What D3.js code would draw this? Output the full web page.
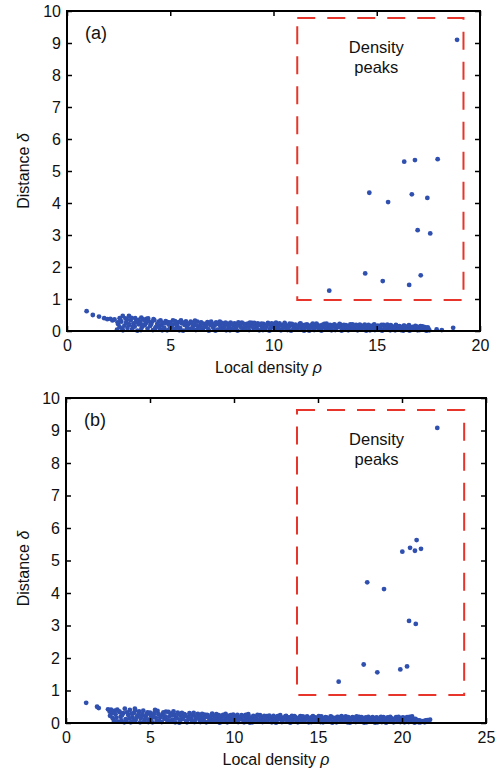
<!DOCTYPE html>
<html>
<head>
<meta charset="utf-8">
<script src="https://cdn.jsdelivr.net/npm/d3@7"></script>
<style>
  body { margin: 0; background: #fff; }
  svg { display: block; }
  text { font-family: "Liberation Sans", Arial, Helvetica, sans-serif; fill: #111; }
</style>
</head>
<body>
<svg id="chart" width="499" height="771"></svg>
<script>
// Decision graphs: local density rho vs. distance delta.

// (a) low-delta points (cluster members / halo)
const bandA = [
  [0.95,0.62],[1.25,0.50],[1.55,0.45],[1.8,0.40],[1.95,0.37],[2.1,0.38],[2.2,0.33],[2.3,0.36],
  [2.55,0.40],[2.7,0.47],[3.0,0.47],[2.9,0.36],[3.3,0.40],[3.6,0.42],[3.85,0.38],
  [2.42,0.04],[2.48,0.21],[2.55,0.12],[2.63,0.29],[2.71,0.02],[2.78,0.17],[2.86,0.26],[2.93,0.09],
  [3.02,0.19],[3.08,0.33],[3.15,0.05],[3.22,0.24],[3.28,0.14],[3.35,0.31],[3.41,0.01],[3.48,0.21],
  [3.55,0.28],[3.62,0.11],[3.69,0.36],[3.76,0.18],[3.83,0.25],[3.9,0.07],[3.96,0.30],
  [4.03,0.16],[4.1,0.27],[4.16,0.03],[4.23,0.34],[4.3,0.12],[4.37,0.22],[4.44,0.29],[4.5,0.06],
  [4.57,0.18],[4.64,0.25],[4.71,0.10],[4.78,0.31],[4.85,0.02],[4.92,0.20],
  [5.0,0.27],[5.07,0.13],[5.13,0.33],[5.2,0.05],[5.27,0.22],[5.34,0.17],[5.41,0.28],[5.48,0.09],
  [5.55,0.24],[5.62,0.01],[5.69,0.19],[5.76,0.30],[5.83,0.12],[5.9,0.23],[5.96,0.06],
  [6.03,0.26],[6.1,0.15],[6.17,0.21],[6.24,0.03],[6.31,0.29],[6.38,0.11],[6.45,0.18],[6.52,0.25],
  [6.59,0.07],[6.66,0.22],[6.73,0.14],[6.8,0.28],[6.87,0.01],[6.94,0.19],
  [7.01,0.24],[7.08,0.10],[7.15,0.17],[7.22,0.27],[7.29,0.04],[7.36,0.21],[7.43,0.13],[7.5,0.25],
  [7.57,0.08],[7.64,0.19],[7.71,0.02],[7.78,0.23],[7.85,0.15],[7.92,0.26],[7.98,0.06],
  [8.05,0.18],[8.12,0.24],[8.19,0.11],[8.26,0.01],[8.33,0.21],[8.4,0.15],[8.47,0.26],[8.54,0.07],
  [8.61,0.19],[8.68,0.13],[8.75,0.23],[8.82,0.03],[8.89,0.17],[8.96,0.25],
  [9.03,0.09],[9.1,0.20],[9.17,0.14],[9.24,0.24],[9.31,0.02],[9.38,0.18],[9.45,0.11],[9.52,0.22],
  [9.59,0.06],[9.66,0.16],[9.73,0.25],[9.8,0.01],[9.87,0.19],[9.94,0.12],
  [10.01,0.22],[10.08,0.05],[10.15,0.17],[10.22,0.10],[10.29,0.24],[10.36,0.02],[10.43,0.19],[10.5,0.13],
  [10.57,0.21],[10.64,0.07],[10.71,0.16],[10.78,0.23],[10.85,0.01],[10.92,0.18],[10.99,0.11],
  [11.06,0.20],[11.13,0.04],[11.2,0.15],[11.27,0.22],[11.34,0.09],[11.41,0.18],[11.48,0.01],[11.55,0.13],
  [11.62,0.21],[11.69,0.06],[11.76,0.17],[11.83,0.11],[11.9,0.23],[11.97,0.03],
  [12.04,0.15],[12.11,0.20],[12.18,0.08],[12.25,0.17],[12.32,0.01],[12.39,0.12],[12.46,0.22],[12.53,0.05],
  [12.6,0.16],[12.67,0.10],[12.74,0.19],[12.81,0.02],[12.88,0.14],[12.95,0.21],
  [13.02,0.07],[13.09,0.17],[13.16,0.12],[13.23,0.20],[13.3,0.01],[13.37,0.15],[13.44,0.09],[13.51,0.18],
  [13.58,0.04],[13.65,0.13],[13.72,0.21],[13.79,0.06],[13.86,0.16],[13.93,0.10],
  [14.0,0.19],[14.07,0.02],[14.14,0.14],[14.21,0.08],[14.28,0.17],[14.35,0.11],[14.42,0.20],[14.49,0.01],
  [14.56,0.13],[14.63,0.07],[14.7,0.16],[14.77,0.10],[14.84,0.18],[14.91,0.03],[14.98,0.12],
  [15.05,0.17],[15.12,0.06],[15.19,0.14],[15.26,0.01],[15.33,0.19],[15.4,0.09],[15.47,0.15],[15.54,0.04],
  [15.61,0.12],[15.68,0.18],[15.75,0.07],[15.82,0.13],[15.89,0.02],[15.96,0.16],
  [16.03,0.10],[16.1,0.15],[16.17,0.03],[16.24,0.12],[16.31,0.17],[16.38,0.06],[16.45,0.11],[16.52,0.14],
  [16.59,0.01],[16.66,0.09],[16.73,0.13],[16.8,0.05],[16.87,0.16],[16.94,0.08],
  [17.01,0.12],[17.08,0.03],[17.15,0.09],[17.22,0.14],[17.29,0.05],[17.36,0.10],[17.43,0.02],[17.5,0.07],
  [17.55,0.02],[17.9,0.05],[18.15,0.03],[18.7,0.10],
  [2.45,0.27],[2.58,0.35],[2.67,0.08],[2.83,0.39],[2.97,0.22],[3.12,0.41],[3.19,0.13],[3.33,0.27],
  [3.46,0.35],[3.58,0.03],[3.66,0.19],[3.79,0.31],[3.93,0.39],[4.07,0.21],[4.19,0.37],[4.27,0.08],
  [4.41,0.17],[4.53,0.33],[4.61,0.02],[4.74,0.24],[4.88,0.28],[4.97,0.07],[5.1,0.19],[5.23,0.31],
  [5.3,0.10],[5.44,0.02],[5.52,0.33],[5.66,0.26],[5.79,0.04],[5.87,0.21],[5.99,0.29],[6.07,0.08],
  [6.2,0.32],[6.28,0.17],[6.42,0.04],[6.49,0.27],[6.63,0.12],[6.77,0.22],[6.84,0.06],[6.98,0.29],
  [7.05,0.16],[7.19,0.01],[7.26,0.22],[7.4,0.29],[7.47,0.07],[7.61,0.14],[7.68,0.26],[7.82,0.11],
  [7.89,0.02],[8.02,0.22],[8.09,0.05],[8.23,0.17],[8.3,0.27],[8.44,0.10],[8.58,0.22],[8.65,0.04],
  [8.79,0.15],[8.86,0.26],[8.99,0.14],[9.07,0.25],[9.21,0.06],[9.28,0.19],[9.42,0.23],[9.49,0.03],
  [9.63,0.12],[9.7,0.20],[9.84,0.08],[9.91,0.24],[10.05,0.14],[10.12,0.26],[10.26,0.06],[10.33,0.18],
  [10.47,0.09],[10.54,0.25],[10.68,0.03],[10.75,0.13],[10.89,0.22],[10.96,0.05],[11.1,0.17],[11.24,0.11],
  [11.31,0.24],[11.45,0.07],[11.52,0.19],[11.66,0.14],[11.73,0.01],[11.87,0.20],[11.94,0.08],[12.08,0.23],
  [12.15,0.11],[12.29,0.04],[12.36,0.19],[12.5,0.14],[12.57,0.23],[12.71,0.06],[12.78,0.12],[12.92,0.18],
  [12.99,0.03],[13.13,0.15],[13.2,0.22],[13.34,0.09],[13.41,0.19],[13.55,0.12],[13.62,0.02],[13.76,0.17],
  [13.83,0.21],[13.97,0.05],[14.04,0.13],[14.18,0.20],[14.25,0.04],[14.39,0.15],[14.46,0.09],[14.6,0.19],
  [14.67,0.02],[14.81,0.12],[14.88,0.21],[15.02,0.08],[15.09,0.14],[15.23,0.19],[15.3,0.04],[15.44,0.12],
  [15.51,0.20],[15.65,0.02],[15.72,0.15],[15.86,0.09],[15.93,0.19],[16.07,0.06],[16.14,0.13],[16.28,0.01],
  [16.35,0.16],[16.49,0.08],[16.56,0.18],[16.7,0.04],[16.77,0.11],[16.91,0.14],[16.98,0.02],[17.12,0.15],
  [17.19,0.06],[17.33,0.12],[17.4,0.01],[17.47,0.11]
];

// (a) cluster centres: high rho and high delta
const peaksA = [
  [18.89,9.10],[16.33,5.29],[16.85,5.34],[17.95,5.37],[14.64,4.32],[15.55,4.03],[16.70,4.27],
  [17.45,4.16],[16.98,3.15],[17.59,3.05],[14.44,1.80],[15.29,1.56],[16.57,1.44],[17.13,1.74],
  [12.70,1.26]
];

// (b) low-delta points
const bandB = [
  [1.2,0.62],[1.85,0.50],[1.95,0.46],[2.5,0.42],[2.6,0.35],[2.75,0.30],[2.9,0.38],[3.05,0.41],
  [3.2,0.33],[3.5,0.44],[3.8,0.40],[4.1,0.44],[3.3,0.08],[3.6,0.05],
  [2.62,0.22],[2.78,0.15],[2.95,0.27],[3.1,0.04],[3.25,0.19],[3.4,0.30],[3.55,0.12],[3.7,0.25],[3.85,0.02],[3.95,0.18],
  [4.05,0.31],[4.15,0.09],[4.25,0.22],[4.35,0.36],[4.45,0.14],[4.55,0.27],[4.65,0.05],[4.75,0.19],[4.85,0.33],[4.95,0.11],
  [5.05,0.24],[5.15,0.02],[5.25,0.30],[5.35,0.16],[5.45,0.37],[5.55,0.08],[5.65,0.22],[5.75,0.28],[5.85,0.13],[5.95,0.35],
  [6.05,0.04],[6.15,0.20],[6.25,0.29],[6.35,0.10],[6.45,0.25],[6.55,0.17],[6.65,0.32],[6.75,0.01],[6.85,0.21],[6.95,0.12],
  [7.05,0.27],[7.15,0.06],[7.25,0.19],[7.35,0.30],[7.45,0.14],[7.55,0.23],[7.65,0.03],[7.75,0.18],[7.85,0.28],[7.95,0.09],
  [8.05,0.21],[8.15,0.15],[8.25,0.26],[8.35,0.02],[8.45,0.19],[8.55,0.11],[8.65,0.24],[8.75,0.07],[8.85,0.17],[8.95,0.27],
  [9.05,0.12],[9.15,0.01],[9.25,0.20],[9.35,0.25],[9.45,0.09],[9.55,0.16],[9.65,0.22],[9.75,0.04],[9.85,0.18],[9.95,0.26],
  [10.05,0.13],[10.15,0.21],[10.25,0.03],[10.35,0.17],[10.45,0.24],[10.55,0.08],[10.65,0.19],[10.75,0.14],[10.85,0.27],[10.95,0.01],
  [11.05,0.16],[11.15,0.22],[11.25,0.10],[11.35,0.19],[11.45,0.04],[11.55,0.24],[11.65,0.13],[11.75,0.18],[11.85,0.06],[11.95,0.21],
  [12.05,0.11],[12.15,0.17],[12.25,0.02],[12.35,0.22],[12.45,0.14],[12.55,0.08],[12.65,0.19],[12.75,0.24],[12.85,0.03],[12.95,0.15],
  [13.05,0.20],[13.15,0.09],[13.25,0.17],[13.35,0.01],[13.45,0.22],[13.55,0.13],[13.65,0.18],[13.75,0.06],[13.85,0.15],[13.95,0.21],
  [14.05,0.04],[14.15,0.16],[14.25,0.11],[14.35,0.20],[14.45,0.02],[14.55,0.14],[14.65,0.19],[14.75,0.08],[14.85,0.17],[14.95,0.12],
  [15.05,0.21],[15.15,0.03],[15.25,0.15],[15.35,0.10],[15.45,0.18],[15.55,0.05],[15.65,0.14],[15.75,0.20],[15.85,0.01],[15.95,0.16],
  [16.05,0.09],[16.15,0.19],[16.25,0.13],[16.35,0.04],[16.45,0.17],[16.55,0.11],[16.65,0.20],[16.75,0.02],[16.85,0.15],[16.95,0.08],
  [17.05,0.18],[17.15,0.12],[17.25,0.03],[17.35,0.16],[17.45,0.19],[17.55,0.07],[17.65,0.14],[17.75,0.01],[17.85,0.17],[17.95,0.10],
  [18.05,0.15],[18.15,0.04],[18.25,0.18],[18.35,0.11],[18.45,0.16],[18.55,0.02],[18.65,0.13],[18.75,0.19],[18.85,0.07],[18.95,0.14],
  [19.05,0.01],[19.15,0.17],[19.25,0.09],[19.35,0.15],[19.45,0.04],[19.55,0.12],[19.65,0.18],[19.75,0.06],[19.85,0.14],[19.95,0.10],
  [20.05,0.17],[20.15,0.02],[20.25,0.13],[20.35,0.08],[20.45,0.19],[20.55,0.05],[20.65,0.12],[20.75,0.01],[20.85,0.09],[20.95,0.04],
  [21.1,0.02],[21.25,0.06],[21.4,0.08],[21.55,0.05],[21.67,0.10],
  [2.68,0.41],[2.85,0.06],[3.0,0.16],[3.17,0.36],[3.33,0.24],[3.47,0.02],[3.63,0.33],[3.77,0.14],
  [3.9,0.29],[4.0,0.07],[4.12,0.39],[4.2,0.17],[4.32,0.28],[4.41,0.02],[4.5,0.21],[4.6,0.38],
  [4.71,0.12],[4.8,0.26],[4.9,0.03],[5.0,0.32],[5.1,0.15],[5.2,0.23],[5.3,0.40],[5.4,0.06],
  [5.5,0.27],[5.61,0.18],[5.7,0.03],[5.8,0.33],[5.9,0.20],[6.0,0.11],[6.1,0.34],[6.2,0.07],
  [6.3,0.24],[6.4,0.36],[6.5,0.02],[6.6,0.14],[6.7,0.27],[6.8,0.09],[6.9,0.31],[7.0,0.18],
  [7.1,0.24],[7.2,0.02],[7.3,0.12],[7.4,0.26],[7.5,0.05],[7.6,0.31],[7.7,0.10],[7.8,0.22],
  [7.9,0.16],[8.0,0.03],[8.1,0.28],[8.2,0.08],[8.3,0.18],[8.4,0.25],[8.5,0.04],[8.6,0.15],
  [8.7,0.29],[8.8,0.11],[8.9,0.22],[9.0,0.05],[9.1,0.24],[9.2,0.14],[9.3,0.07],[9.4,0.21],
  [9.5,0.28],[9.6,0.02],[9.7,0.13],[9.8,0.24],[9.9,0.09],[10.0,0.19],[10.1,0.05],[10.2,0.25],
  [10.3,0.11],[10.4,0.15],[10.5,0.22],[10.6,0.02],[10.7,0.25],[10.8,0.07],[10.9,0.18],[11.0,0.12],
  [11.1,0.02],[11.2,0.20],[11.3,0.14],[11.4,0.25],[11.5,0.09],[11.6,0.17],[11.7,0.03],[11.8,0.22],
  [11.9,0.13],[12.0,0.06],[12.1,0.23],[12.2,0.14],[12.3,0.09],[12.4,0.18],[12.5,0.01],[12.6,0.21],
  [12.7,0.12],[12.8,0.17],[12.9,0.07],[13.0,0.14],[13.1,0.22],[13.2,0.04],[13.3,0.13],[13.4,0.18],
  [13.5,0.08],[13.6,0.21],[13.7,0.11],[13.8,0.02],[13.9,0.17],[14.0,0.10],[14.1,0.20],[14.2,0.06],
  [14.3,0.14],[14.4,0.17],[14.5,0.09],[14.6,0.03],[14.7,0.21],[14.8,0.12],[14.9,0.05],[15.0,0.16],
  [15.1,0.10],[15.2,0.20],[15.3,0.02],[15.4,0.13],[15.5,0.17],[15.6,0.08],[15.7,0.11],[15.8,0.19],
  [15.9,0.05],[16.0,0.14],[16.1,0.02],[16.2,0.18],[16.3,0.10],[16.4,0.21],[16.5,0.05],[16.6,0.13],
  [16.7,0.09],[16.8,0.18],[16.9,0.01],[17.0,0.12],[17.1,0.17],[17.2,0.07],[17.3,0.20],[17.4,0.04],
  [17.5,0.14],[17.6,0.18],[17.7,0.09],[17.8,0.12],[17.9,0.02],[18.0,0.19],[18.1,0.10],[18.2,0.06],
  [18.3,0.15],[18.4,0.01],[18.5,0.17],[18.6,0.09],[18.7,0.12],[18.8,0.03],[18.9,0.18],[19.0,0.11],
  [19.1,0.05],[19.2,0.14],[19.3,0.19],[19.4,0.08],[19.5,0.02],[19.6,0.15],[19.7,0.10],[19.8,0.19],
  [19.9,0.03],[20.0,0.12],[20.1,0.16],[20.2,0.07],[20.3,0.18],[20.4,0.03],[20.5,0.14],[20.6,0.20],
  [20.7,0.06],[20.8,0.13],[20.9,0.09],[21.0,0.02],[21.05,0.08],[21.2,0.04],[21.35,0.02],[21.5,0.09]
];

// (b) cluster centres
const peaksB = [
  [22.10,9.08],[20.87,5.63],[20.48,5.39],[21.13,5.36],[20.77,5.30],[20.02,5.27],[17.93,4.33],
  [18.93,4.12],[20.42,3.14],[20.82,3.05],[17.72,1.80],[18.53,1.56],[19.90,1.65],[20.30,1.74],
  [16.23,1.27]
];

const xTicksA = [0, 5, 10, 15, 20];
const xTicksB = [0, 5, 10, 15, 20, 25];
const yTicks = [0, 1, 2, 3, 4, 5, 6, 7, 8, 9, 10];

// selection boxes: [rho min, rho max, delta min, delta max]
const boxA = [11.15, 19.2, 0.97, 9.78];
const boxB = [13.75, 23.7, 0.86, 9.63];

const panelTags = ["(a)", "(b)"];
const boxCaption = ["Density", "peaks"];

const panels = [
  { tag: panelTags[0], band: bandA, peaks: peaksA, xTicks: xTicksA, box: boxA,
    left: 67, right: 480, top: 11, bottom: 331, titleShift: -5, yTitleShift: 0 },
  { tag: panelTags[1], band: bandB, peaks: peaksB, xTicks: xTicksB, box: boxB,
    left: 66, right: 486, top: 398, bottom: 723, titleShift: 0, yTitleShift: 8 }
];

const svg = d3.select("#chart");
const dotColor = "#3050b0";
const boxColor = "#e8352b";

panels.forEach(p => {
  const xMax = p.xTicks[p.xTicks.length - 1];
  const x = d3.scaleLinear().domain([0, xMax]).range([p.left, p.right]);
  const y = d3.scaleLinear().domain([0, 10]).range([p.bottom, p.top]);
  const g = svg.append("g");

  // points
  g.append("g").selectAll("circle")
    .data(p.band.concat(p.peaks))
    .join("circle")
    .attr("cx", d => x(d[0]))
    .attr("cy", d => y(d[1]))
    .attr("r", 2.4)
    .attr("fill", dotColor);

  // dashed selection box
  g.append("rect")
    .attr("x", x(p.box[0]))
    .attr("y", y(p.box[3]))
    .attr("width", x(p.box[1]) - x(p.box[0]))
    .attr("height", y(p.box[2]) - y(p.box[3]))
    .attr("fill", "none")
    .attr("stroke", boxColor)
    .attr("stroke-width", 2)
    .attr("stroke-dasharray", "18,12");

  const cx = (x(p.box[0]) + x(p.box[1])) / 2 - 4;
  g.append("text")
    .attr("x", cx).attr("y", y(p.box[3]) + 35)
    .attr("text-anchor", "middle").attr("font-size", 16.5)
    .text(boxCaption[0]);
  g.append("text")
    .attr("x", cx).attr("y", y(p.box[3]) + 55)
    .attr("text-anchor", "middle").attr("font-size", 16.5)
    .text(boxCaption[1]);

  // axes with inward ticks on all four sides
  const tick = 5;
  const styleAxis = sel => {
    sel.select(".domain").remove();
    sel.selectAll(".tick line").attr("stroke", "#000").attr("stroke-width", 1.5);
    sel.selectAll(".tick text").attr("font-size", 16).attr("fill", "#111")
      .style("font-family", "'Liberation Sans', Arial, sans-serif");
  };
  g.append("g").attr("transform", `translate(0,${p.bottom})`)
    .call(d3.axisBottom(x).tickValues(p.xTicks).tickSize(-tick).tickPadding(9))
    .call(styleAxis);
  g.append("g").attr("transform", `translate(0,${p.top})`)
    .call(d3.axisTop(x).tickValues(p.xTicks).tickSize(-tick).tickFormat(""))
    .call(styleAxis);
  g.append("g").attr("transform", `translate(${p.left},0)`)
    .call(d3.axisLeft(y).tickValues(yTicks).tickSize(-tick).tickPadding(6))
    .call(styleAxis);
  g.append("g").attr("transform", `translate(${p.right},0)`)
    .call(d3.axisRight(y).tickValues(yTicks).tickSize(-tick).tickFormat(""))
    .call(styleAxis);

  // frame
  g.append("rect")
    .attr("x", p.left).attr("y", p.top)
    .attr("width", p.right - p.left).attr("height", p.bottom - p.top)
    .attr("fill", "none").attr("stroke", "#000").attr("stroke-width", 2);

  // panel tag
  g.append("text")
    .attr("x", p.left + 18).attr("y", p.top + 28)
    .attr("font-size", 18)
    .text(p.tag);

  // axis titles
  const xt = g.append("text")
    .attr("x", (p.left + p.right) / 2 + p.titleShift).attr("y", p.bottom + 42)
    .attr("text-anchor", "middle").attr("font-size", 16);
  xt.append("tspan").text("Local density ");
  xt.append("tspan").attr("font-style", "italic").text("ρ");

  const yt = g.append("text")
    .attr("transform", `translate(29,${(p.top + p.bottom) / 2 + p.yTitleShift}) rotate(-90)`)
    .attr("text-anchor", "middle").attr("font-size", 16);
  yt.append("tspan").text("Distance ");
  yt.append("tspan").attr("font-style", "italic").text("δ");
});
</script>
</body>
</html>
